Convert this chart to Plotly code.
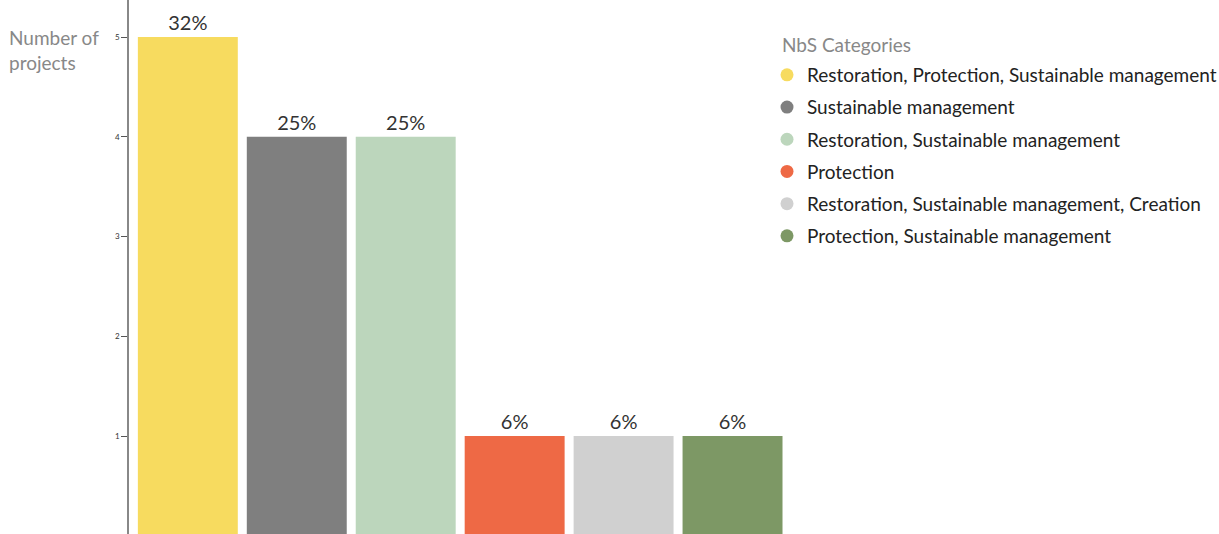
import plotly.graph_objects as go

categories = [
    "Restoration, Protection, Sustainable management",
    "Sustainable management",
    "Restoration, Sustainable management",
    "Protection",
    "Restoration, Sustainable management, Creation",
    "Protection, Sustainable management",
]
projects = [5, 4, 4, 1, 1, 1]
pct_labels = ["32%", "25%", "25%", "6%", "6%", "6%"]
colors = ["#F7DB5F", "#7F7F7F", "#BCD6BC", "#EE6945", "#D0D0D0", "#7D9865"]
y_ticks = [1, 2, 3, 4, 5]

FONT = "Lato"
W, H = 1219, 534
left, right = 129, 787.5

fig = go.Figure()
fig.add_trace(go.Bar(
    x=list(range(len(categories))), y=projects,
    marker=dict(color=colors, line=dict(width=0)),
    text=pct_labels, textposition="outside",
    textfont=dict(family=FONT, size=20, color="#333333"),
    cliponaxis=False, showlegend=False, hoverinfo="skip",
))
for i, (name, col) in enumerate(zip(categories, colors)):
    fig.add_trace(go.Scatter(
        x=[None], y=[None], mode="markers", name=name,
        marker=dict(color=col, size=13, symbol="circle"),
        legendgroup=f"g{i}",
    ))

fig.update_layout(
    width=W, height=H,
    margin=dict(l=left, r=W - right, t=0, b=0, autoexpand=False),
    paper_bgcolor="white", plot_bgcolor="white",
    bargap=9 / 109,
    font=dict(family=FONT),
    xaxis=dict(range=[-0.54, 5.5], showticklabels=False, showgrid=False,
               zeroline=False, showline=False, ticks=""),
    yaxis=dict(range=[0.018, 5.371], tickvals=y_ticks, ticks="outside",
               ticklen=6, tickwidth=1, tickcolor="#555555",
               tickfont=dict(size=8, color="#333333", family=FONT),
               showline=True, linecolor="#888888", linewidth=1.5,
               showgrid=False, zeroline=False),
    legend=dict(
        font=dict(size=19, color="#222222", family=FONT),
        xref="container", yref="container",
        x=767 / W, y=1 - 56 / H, xanchor="left", yanchor="top",
        traceorder="grouped", tracegroupgap=4.5, itemwidth=30,
        bgcolor="rgba(0,0,0,0)",
    ),
    annotations=[
        dict(
            text="Number of<br>projects", xref="paper", yref="paper",
            x=(7 - left) / (right - left), y=1 - 24 / H,
            xanchor="left", yanchor="top", align="left", showarrow=False,
            font=dict(size=19, color="#888888", family=FONT),
        ),
        dict(
            text="NbS Categories", xref="paper", yref="paper",
            x=(780 - left) / (right - left), y=1 - 45 / H,
            xanchor="left", yanchor="middle", align="left", showarrow=False,
            font=dict(size=19, color="#888888", family=FONT),
        ),
    ],
)

fig.write_html("out.html")
